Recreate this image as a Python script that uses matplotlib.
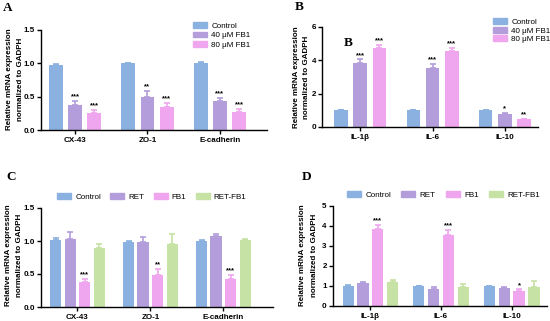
import matplotlib
matplotlib.use("Agg")
import matplotlib.pyplot as plt
import numpy as np
from matplotlib.patches import Patch

plt.rcParams['font.family'] = ['Liberation Sans', 'DejaVu Sans']

W, H = 550, 321

# ---------------- data ----------------
genes_A = ["CX-43", "ZO-1", "E-cadherin"]
groups_A = ["Control", "40 μM FB1", "80 μM FB1"]
vals_A = [[0.98, 1.00, 1.01], [0.38, 0.50, 0.43], [0.26, 0.35, 0.27]]
errs_A = [[0.01, 0.01, 0.01], [0.05, 0.08, 0.05], [0.04, 0.05, 0.05]]
sig_A = [["", "", ""], ["***", "**", "***"], ["***", "***", "***"]]

genes_B = ["IL-1β", "IL-6", "IL-10"]
groups_B = ["Control", "40 μM FB1", "80 μM FB1"]
vals_B = [[1.0, 1.0, 1.0], [3.85, 3.55, 0.78], [4.75, 4.55, 0.45]]
errs_B = [[0.02, 0.02, 0.02], [0.2, 0.25, 0.04], [0.15, 0.2, 0.03]]
sig_B = [["", "", ""], ["***", "***", "*"], ["***", "***", "**"]]

genes_C = ["CX-43", "ZO-1", "E-cadherin"]
groups_C = ["Control", "RET", "FB1", "RET-FB1"]
vals_C = [[1.01, 0.99, 1.00], [1.03, 0.98, 1.08], [0.38, 0.49, 0.43], [0.89, 0.96, 1.01]]
errs_C = [[0.03, 0.01, 0.01], [0.10, 0.08, 0.03], [0.05, 0.08, 0.05], [0.07, 0.14, 0.02]]
sig_C = [["", "", ""], ["", "", ""], ["***", "**", "***"], ["", "", ""]]

genes_D = ["IL-1β", "IL-6", "IL-10"]
groups_D = ["Control", "RET", "FB1", "RET-FB1"]
vals_D = [[1.02, 1.00, 1.00], [1.15, 0.85, 0.88], [3.85, 3.55, 0.75], [1.20, 0.93, 0.97]]
errs_D = [[0.02, 0.02, 0.02], [0.03, 0.10, 0.05], [0.20, 0.25, 0.08], [0.12, 0.15, 0.28]]
sig_D = [["", "", ""], ["", "", ""], ["***", "***", "*"], ["", "", ""]]

ylabel_text = "Relative mRNA expression\nnormalized to GADPH"

colors3 = ["#8AB1DF", "#B39DDB", "#F0A6EE"]
colors4 = ["#8AB1DF", "#B39DDB", "#F0A6EE", "#C6E2A4"]

FS = 5.8

fig = plt.figure(figsize=(W / 100, H / 100), dpi=100)


def ax_at(x0, x1, ytop, ybot):
    return fig.add_axes([x0 / W, 1 - ybot / H, (x1 - x0) / W, (ybot - ytop) / H])


def draw(ax, genes, vals, errs, sigs, colors, width, step, ymax, yticks, xlim, ticklabels,
         star_off, ylab_xy, ylab_ls=2.0):
    n = len(vals)
    x = np.arange(len(genes))
    for i in range(n):
        pos = x + (i - (n - 1) / 2) * step
        ax.bar(pos, vals[i], width, color=colors[i], zorder=2)
        ax.errorbar(pos, vals[i], yerr=[np.zeros(len(genes)), errs[i]], fmt='none',
                    ecolor=colors[i], elinewidth=1.2, capsize=2.5, capthick=1.2, zorder=3)
        for j in range(len(genes)):
            if sigs[i][j]:
                ax.text(pos[j], vals[i][j] + errs[i][j] + star_off, sigs[i][j],
                        ha='center', va='bottom', fontsize=5.5, fontweight='bold')
    ax.set_ylim(0, ymax)
    ax.set_yticks(yticks)
    ax.set_yticklabels(ticklabels, fontsize=FS, fontweight='bold')
    ax.set_xlim(*xlim)
    ax.set_xticks(x)
    ax.set_xticklabels(genes, fontsize=FS, fontweight='bold')
    for s in ['top', 'right']:
        ax.spines[s].set_visible(False)
    for s in ['left', 'bottom']:
        ax.spines[s].set_linewidth(1.0)
    ax.tick_params(axis='y', length=3, width=1, pad=1.5)
    ax.tick_params(axis='x', length=3, width=1, pad=2)
    fig.text(ylab_xy[0] / W, 1 - ylab_xy[1] / H, ylabel_text, rotation=90,
             ha='center', va='center', multialignment='center', fontsize=FS,
             fontweight='bold', linespacing=ylab_ls)


leg_kw = dict(frameon=False, fontsize=FS, handlelength=1.75, handleheight=0.75,
              handletextpad=0.5, borderpad=0)

# Panel A
axA = ax_at(41, 267, 30, 130)
draw(axA, genes_A, vals_A, errs_A, sig_A, colors3, 0.19, 0.265, 1.5,
     [0, 0.5, 1.0, 1.5], xlim=(-0.47, 2.65), ticklabels=["0.0", "0.5", "1.0", "1.5"],
     star_off=0.01, ylab_xy=(15, 79), ylab_ls=1.8)
axA.legend([Patch(color=c) for c in colors3], groups_A, loc='upper left',
           bbox_to_anchor=(189 / W, 1 - 18 / H), bbox_transform=fig.transFigure,
           labelspacing=0.22, **leg_kw)

# Panel B
axB = ax_at(322, 538, 27, 127)
draw(axB, genes_B, vals_B, errs_B, sig_B, colors3, 0.19, 0.265, 6,
     [0, 2, 4, 6], xlim=(-0.53, 2.46), ticklabels=["0", "2", "4", "6"],
     star_off=0.04, ylab_xy=(302, 77), ylab_ls=1.6)
axB.legend([Patch(color=c) for c in colors3], groups_B, loc='upper left',
           bbox_to_anchor=(489 / W, 1 - 14 / H), bbox_transform=fig.transFigure,
           labelspacing=0.12, **leg_kw)

# Panel C
axC = ax_at(41, 273, 208, 307)
draw(axC, genes_C, vals_C, errs_C, sig_C, colors4, 0.155, 0.2, 1.5,
     [0, 0.5, 1.0, 1.5], xlim=(-0.5, 2.68), ticklabels=["0.0", "0.5", "1.0", "1.5"],
     star_off=0.01, ylab_xy=(14, 255), ylab_ls=1.8)
axC.legend([Patch(color=c) for c in colors4], groups_C, loc='center left',
           bbox_to_anchor=(53 / W, 1 - 197 / H), bbox_transform=fig.transFigure,
           ncol=4, columnspacing=1.15, **leg_kw)

# Panel D
axD = ax_at(333, 547, 206, 306)
draw(axD, genes_D, vals_D, errs_D, sig_D, colors4, 0.16, 0.21, 5,
     [0, 1, 2, 3, 4, 5], xlim=(-0.53, 2.5), ticklabels=["0", "1", "2", "3", "4", "5"],
     star_off=0.03, ylab_xy=(308, 255))
axD.legend([Patch(color=c) for c in colors4], groups_D, loc='center left',
           bbox_to_anchor=(343 / W, 1 - 195 / H), bbox_transform=fig.transFigure,
           ncol=4, columnspacing=1.3, **leg_kw)

# Panel letters
for lbl, (px, py) in {"A": (8, 8), "B": (299, 7), "C": (11, 177), "D": (307, 177)}.items():
    fig.text(px / W, 1 - py / H, lbl, fontsize=9.5, fontweight='bold',
             family='Liberation Serif', va='center', ha='center')
fig.text(348 / W, 1 - 43 / H, "B", fontsize=9.5, fontweight='bold',
         family='Liberation Serif', va='center', ha='center')

fig.savefig("out.png", dpi=100)
